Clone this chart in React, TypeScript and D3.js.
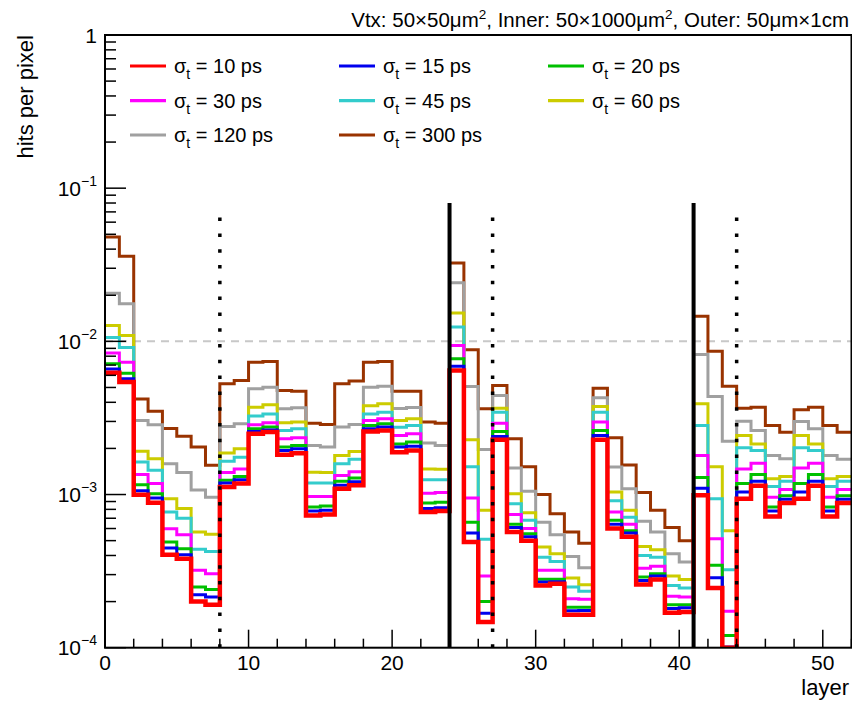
import React from "react";
import * as d3 from "d3";

const layers = d3.range(0, 52);

const s10 = [0.00623,0.00542,0.000996,0.000884,0.000404,0.000381,0.0002,0.000191,
0.00112,0.00118,0.00249,0.00256,0.00182,0.00186,0.00073,0.00074,
0.00109,0.00115,0.00258,0.00262,0.00189,0.00194,0.00077,0.00078,
0.00645,0.000489,0.000147,0.00228,0.00057,0.0005,0.000255,0.000262,
0.000164,0.000164,0.00228,0.0006,0.00053,0.000259,0.000279,0.000169,0.000171,
0.00099,0.000245,0.0000995,0.00094,0.00114,0.00072,0.00088,0.00094,0.00114,0.00072,0.00088];
const s15 = [0.0066,0.0057,0.00106,0.00095,0.000447,0.000404,0.000222,0.000214,
0.00119,0.00125,0.00258,0.00264,0.00194,0.00199,0.00078,0.00079,
0.00115,0.00121,0.00269,0.00276,0.00204,0.00207,0.00081,0.00082,
0.00689,0.00056,0.000168,0.00239,0.00061,0.00053,0.000268,0.00027,
0.000174,0.000175,0.00243,0.00064,0.00056,0.000275,0.000294,0.00018,0.000182,
0.0011,0.000286,0.000101,0.00104,0.00122,0.00078,0.00093,0.00104,0.00122,0.00078,0.00093];
const s20 = [0.00713,0.0062,0.00116,0.00101,0.000489,0.000442,0.000249,0.00024,
0.00124,0.00131,0.00269,0.00276,0.00204,0.00209,0.00083,0.00084,
0.00122,0.00128,0.00282,0.0029,0.00214,0.0022,0.00088,0.00089,
0.00769,0.00066,0.0002,0.00258,0.00064,0.000555,0.00028,0.00028,
0.000184,0.000184,0.00262,0.00068,0.00058,0.000289,0.000304,0.000191,0.000191,
0.00129,0.000345,0.00012,0.00118,0.00135,0.00083,0.00098,0.00118,0.00135,0.00083,0.00098];
const s30 = [0.0084,0.0073,0.00135,0.00118,0.000598,0.000546,0.00032,0.000304,
0.00139,0.00147,0.00285,0.00294,0.00231,0.00235,0.00097,0.00097,
0.00133,0.00141,0.00304,0.00312,0.00243,0.00249,0.00102,0.00103,
0.0094,0.00095,0.000294,0.00292,0.00074,0.0006,0.00032,0.00032,
0.000209,0.000207,0.00297,0.00077,0.00064,0.00033,0.00034,0.000217,0.000214,
0.0018,0.000514,0.000173,0.00147,0.0016,0.00096,0.00108,0.00149,0.0016,0.00096,0.00108];
const s45 = [0.0106,0.0091,0.00163,0.00144,0.00077,0.0007,0.00044,0.000425,
0.00165,0.00175,0.00325,0.00336,0.00262,0.00269,0.00119,0.00119,
0.00159,0.0017,0.00336,0.00345,0.00275,0.00282,0.00125,0.00125,
0.0124,0.00152,0.00051,0.00345,0.00087,0.00068,0.00039,0.000366,
0.000249,0.000234,0.00345,0.00091,0.00071,0.0004,0.00039,0.000255,0.000245,
0.00282,0.00094,0.000323,0.00202,0.00194,0.00113,0.00122,0.00202,0.00194,0.00113,0.00122];
const s60 = [0.0127,0.0109,0.00192,0.00171,0.00094,0.00081,0.00057,0.00055,
0.00187,0.00199,0.00372,0.00385,0.00294,0.00297,0.0014,0.00139,
0.0018,0.00191,0.0038,0.00391,0.00304,0.00312,0.00147,0.00146,
0.0153,0.00228,0.00079,0.00366,0.00101,0.00076,0.000454,0.00041,
0.000285,0.000258,0.00376,0.00104,0.00079,0.000458,0.000436,0.000294,0.000279,
0.00391,0.00152,0.00058,0.00243,0.00214,0.00127,0.00131,0.00243,0.00214,0.00127,0.00131];
const s120 = [0.0206,0.0176,0.00304,0.00285,0.00159,0.00139,0.00107,0.00096,
0.00278,0.0029,0.0049,0.00502,0.00363,0.00368,0.00209,0.00204,
0.00276,0.00286,0.00502,0.0051,0.00365,0.0037,0.00217,0.00209,
0.0241,0.00507,0.00197,0.00443,0.00149,0.00105,0.00066,0.000546,
0.000394,0.000333,0.00428,0.00151,0.00109,0.00067,0.00057,0.00041,0.000362,
0.0082,0.00436,0.00223,0.00301,0.00262,0.0018,0.00171,0.003,0.00269,0.0018,0.0017];
const s300 = [0.048,0.036,0.0042,0.0035,0.0027,0.0024,0.00204,0.00155,
0.00528,0.00555,0.0073,0.0074,0.00478,0.00473,0.00292,0.00286,
0.00528,0.0055,0.0073,0.0074,0.00473,0.00473,0.00297,0.00292,
0.0325,0.0088,0.00363,0.00515,0.00231,0.00152,0.001,0.00075,
0.00057,0.00048,0.00495,0.00235,0.00156,0.00103,0.00079,0.00061,0.0005,
0.0146,0.00863,0.0051,0.00366,0.00372,0.00282,0.00255,0.00357,0.00372,0.00282,0.00255];

const sigmaLabels = ["10", "15", "20", "30", "45", "60", "120", "300"];
const seriesValues = [s10, s15, s20, s30, s45, s60, s120, s300];
const seriesColors = ["#ff0000", "#0000ee", "#00c000", "#ff00ff", "#33cccc", "#cccc00", "#a0a0a0", "#993300"];
const seriesWidths = [4.5, 3, 3, 3, 3, 3, 3, 3];

const xTicksMajor = [0, 10, 20, 30, 40, 50];
const xTicksMinor = d3.range(0, 53, 2);
const yDecades = [1, 1e-1, 1e-2, 1e-3, 1e-4];
const yExponents = ["", "−1", "−2", "−3", "−4"];
const solidLayers = [24, 41];
const dottedLayers = [8, 27, 44];
const solidTop = 0.08;
const dottedTop = 0.07;
const refLevel = 0.01;

const W = 852, H = 703;
const FONT = "'Liberation Sans', Arial, Helvetica, sans-serif";

export default function App() {
  const x = d3.scaleLinear().domain([0, 52]).range([105, 851.5]);
  const y = d3.scaleLog().domain([1e-4, 1]).range([647.7, 35]).clamp(true);
  const x0 = x.range()[0], x1 = x.range()[1];
  const yb = y.range()[0], yt = y.range()[1];

  const line = d3.line<[number, number]>().x(d => x(d[0])).y(d => y(d[1]));
  const stepPts = (vals: number[]): [number, number][] => {
    const pts: [number, number][] = [];
    layers.forEach((l, i) => { pts.push([l, vals[i]]); pts.push([l + 1, vals[i]]); });
    return pts;
  };

  const minorY: number[] = [];
  for (let e = -4; e < 0; e++) for (let k = 2; k <= 9; k++) minorY.push(k * Math.pow(10, e));

  const drawOrder = d3.range(seriesValues.length).reverse();

  const legendCols = [130, 339, 548];
  const legendRows = [66, 100.7, 135];

  return (
    <svg width={W} height={H} style={{ position: "absolute", left: 0, top: 0, background: "#fff" }} fontFamily={FONT}>
      <defs>
        <clipPath id="plotclip">
          <rect x={x0} y={yt} width={x1 - x0} height={yb - yt} />
        </clipPath>
      </defs>
      <rect x={0} y={0} width={W} height={H} fill="#fff" />

      <line x1={x0} x2={x1} y1={y(refLevel)} y2={y(refLevel)} stroke="#c8c8c8" strokeWidth={2} strokeDasharray="8,6" />

      <g clipPath="url(#plotclip)">
        {drawOrder.map(i => (
          <path key={i} d={line(stepPts(seriesValues[i])) || ""} fill="none" stroke={seriesColors[i]} strokeWidth={seriesWidths[i]} strokeLinejoin="miter" />
        ))}
      </g>

      {solidLayers.map(l => (
        <line key={"s" + l} x1={x(l)} x2={x(l)} y1={yb} y2={y(solidTop)} stroke="#000" strokeWidth={4} />
      ))}
      {dottedLayers.map(l => (
        <line key={"d" + l} x1={x(l)} x2={x(l)} y1={yb} y2={y(dottedTop)} stroke="#000" strokeWidth={3.5} strokeDasharray="3.5,12.3" />
      ))}

      <rect x={x0} y={yt} width={x1 - x0} height={yb - yt} fill="none" stroke="#000" strokeWidth={2} />

      {yDecades.map(v => (
        <line key={"ym" + v} x1={x0} x2={x0 + 21} y1={y(v)} y2={y(v)} stroke="#000" strokeWidth={1.5} />
      ))}
      {minorY.map(v => (
        <line key={"yn" + v} x1={x0} x2={x0 + 11} y1={y(v)} y2={y(v)} stroke="#000" strokeWidth={1.5} />
      ))}
      {yDecades.map((v, i) => (
        <text key={"yl" + v} x={97} y={y(v) + 7.5} textAnchor="end" fontSize={21} fill="#000">
          {i === 0 ? "1" : "10"}
          {i > 0 && <tspan fontSize={14} dy={-10}>{yExponents[i]}</tspan>}
        </text>
      ))}

      {xTicksMinor.map(v => (
        <line key={"xn" + v} x1={x(v)} x2={x(v)} y1={yb} y2={yb - (v % 10 === 0 ? 18 : 9)} stroke="#000" strokeWidth={1.5} />
      ))}
      {xTicksMajor.map(v => (
        <text key={"xl" + v} x={x(v)} y={670} textAnchor="middle" fontSize={21} fill="#000">{v}</text>
      ))}

      <text x={849} y={695} textAnchor="end" fontSize={22} fill="#000">layer</text>
      <text transform={`translate(33,${yt}) rotate(-90)`} textAnchor="end" fontSize={22} fill="#000">hits per pixel</text>

      <text x={849} y={26.5} textAnchor="end" fontSize={20.5} fill="#000">
        Vtx: 50×50μm<tspan fontSize={13.5} dy={-8}>2</tspan><tspan dy={8}>, Inner: 50×1000μm</tspan><tspan fontSize={13.5} dy={-8}>2</tspan><tspan dy={8}>, Outer: 50μm×1cm</tspan>
      </text>

      {sigmaLabels.map((lab, i) => {
        const cx = legendCols[i % 3];
        const cy = legendRows[Math.floor(i / 3)];
        return (
          <g key={"lg" + i}>
            <line x1={cx} x2={cx + 36} y1={cy} y2={cy} stroke={seriesColors[i]} strokeWidth={3.2} />
            <text x={cx + 44} y={cy + 7} fontSize={20} fill="#000">
              σ<tspan fontSize={14} dy={6}>t</tspan><tspan dy={-6}>{` = ${lab} ps`}</tspan>
            </text>
          </g>
        );
      })}
    </svg>
  );
}
